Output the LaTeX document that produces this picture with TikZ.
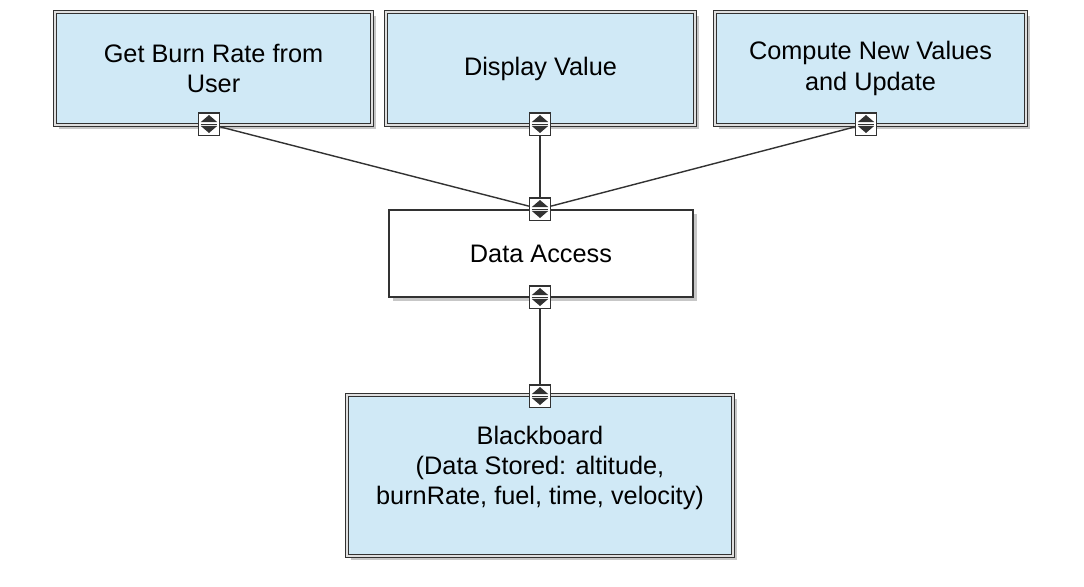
\documentclass[tikz,border=0pt]{standalone}
\usepackage{fontspec}
\setmainfont{Liberation Sans}
\usetikzlibrary{calc,shadows}
\definecolor{boxblue}{RGB}{208,233,246}
\definecolor{edge}{RGB}{50,50,50}
\tikzset{
  px/.style={x=0.025cm,y=-0.025cm},
  boxbase/.style={draw=edge, line width=0.7pt, double=gray!25, double distance=1.1pt,
    align=center, font=\fontsize{18}{21.5}\selectfont, inner sep=0pt,
    drop shadow={shadow xshift=2.5pt, shadow yshift=-2.5pt, opacity=0.22, fill=black}},
  bluebox/.style={boxbase, fill=boxblue},
  whitebox/.style={draw=edge, line width=1.4pt, fill=white, align=center,
    font=\fontsize{18}{21.5}\selectfont, inner sep=0pt,
    drop shadow={shadow xshift=2.5pt, shadow yshift=-2.5pt, opacity=0.22, fill=black}},
  port/.style={draw=edge, line width=1pt, fill=white, inner sep=0pt,
    minimum width=0.52cm, minimum height=0.56cm,
    path picture={
      \fill[edge] ($(path picture bounding box.center)+(0,6.4pt)$) -- ($(path picture bounding box.center)+(-5.8pt,1.4pt)$) -- ($(path picture bounding box.center)+(5.8pt,1.4pt)$) -- cycle;
      \fill[edge] ($(path picture bounding box.center)+(0,-6.4pt)$) -- ($(path picture bounding box.center)+(-5.8pt,-1.4pt)$) -- ($(path picture bounding box.center)+(5.8pt,-1.4pt)$) -- cycle;
      \draw[edge, line width=0.6pt] ($(path picture bounding box.center)+(-6pt,0)$) -- ($(path picture bounding box.center)+(6pt,0)$);
    }},
  conn/.style={draw=edge, line width=1pt}
}
\begin{document}
\begin{tikzpicture}[px]
\useasboundingbox[fill=white] (0,0) rectangle (1084,586);
\node[bluebox, minimum width=317*0.025cm, minimum height=113*0.025cm] (get) at (213.5,68.5) {Get Burn Rate from\\User};
\node[bluebox, minimum width=309*0.025cm, minimum height=113*0.025cm] (disp) at (540.5,68.5) {Display Value};
\node[bluebox, minimum width=311*0.025cm, minimum height=113*0.025cm] (comp) at (870.5,68.5) {Compute New Values\\and Update};
\node[whitebox, minimum width=304*0.025cm, minimum height=87*0.025cm] (da) at (541,253.5) {Data Access};
\node[bluebox, minimum width=386*0.025cm, minimum height=161*0.025cm] (bb) at (540,475.5) {};
\node[align=center, font=\fontsize{18}{21.5}\selectfont, inner sep=0pt] (bbtext) at (540,468) {Blackboard\\(Data Stored: altitude,\\burnRate, fuel, time, velocity)};
\node[port] (pget) at (209,124) {};
\node[port] (pdisp) at (540,124) {};
\node[port] (pcomp) at (866,124) {};
\node[port] (pdatop) at (540,209) {};
\node[port] (pdabot) at (540,297) {};
\node[port] (pbb) at (540,396) {};
\draw[conn] (pget) -- (pdatop);
\draw[conn] (pdisp) -- (pdatop);
\draw[conn] (pcomp) -- (pdatop);
\draw[conn] (pdabot) -- (pbb);
\end{tikzpicture}
\end{document}
